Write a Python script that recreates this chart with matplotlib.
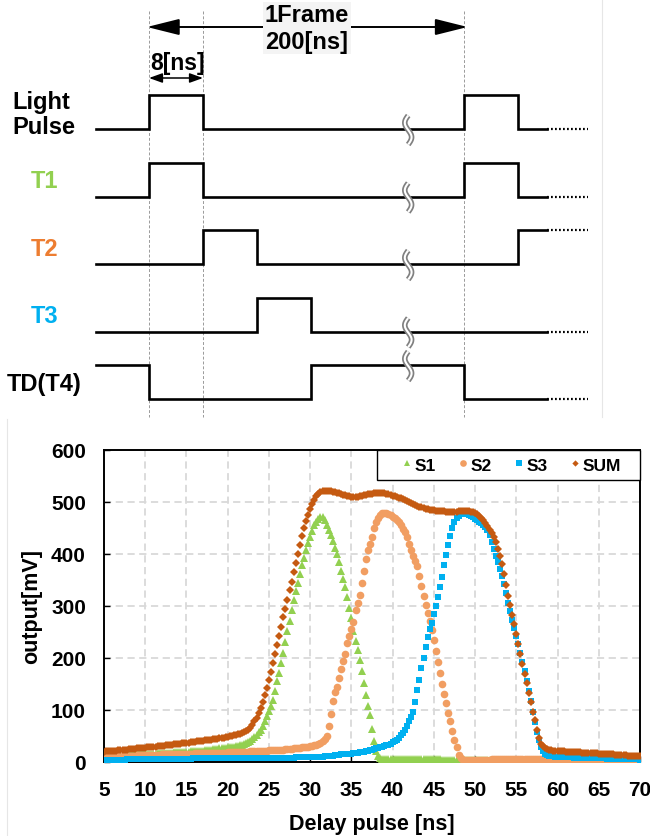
import matplotlib.pyplot as plt
import numpy as np
from matplotlib.lines import Line2D
from matplotlib.patches import Rectangle

plt.rcParams['font.family'] = ['Liberation Sans', 'DejaVu Sans']
plt.rcParams['font.weight'] = 'bold'
plt.rcParams['axes.labelweight'] = 'bold'

#####################################################
# DATA
#####################################################

# delay pulse [ns], one sample every 0.25 ns
delay = np.arange(5, 70.001, 0.25)

s1 = [
    12, 12, 12, 12.5, 12.5, 12.5, 13, 13, 13, 13, 13.5, 13.5, 14, 14, 14, 14.5,
    14.5, 14.5, 15, 15, 15, 15.5, 15.5, 16, 16, 16, 16.5, 16.5, 17, 17, 17.5, 17.5,
    18, 18, 18.5, 18.5, 19, 19, 19.5, 19.5, 20, 20, 20.5, 21, 21, 21.5, 21.5, 22,
    22, 22.5, 23, 23.5, 24, 24.5, 25, 25.5, 26, 26.5, 27, 27.5, 28, 28.5, 29, 29.5,
    30, 31, 32, 33, 34, 36, 38, 41, 44, 48, 52, 57, 62, 70, 78, 88,
    98, 108, 120, 137, 155, 172, 190, 210, 230, 251, 272, 292, 312, 328, 345, 362,
    378, 393, 408, 421, 433, 445, 455, 462, 468, 471, 471, 466, 455, 447, 437, 425,
    412, 400, 385, 368, 352, 336, 317, 297, 276, 252, 233, 215, 196, 175, 152, 128,
    108, 90, 64, 40, 22, 11, 7, 6, 5, 5, 5, 5, 5, 5, 5, 5,
    5, 5, 5, 5, 5, 5, 5, 5, 5, 5, 5, 5, 5, 5, 5, 5,
    5, 5, 5, 5, 4.5, 4.5, 4.5, 4.5, 4.5, 4.5, 4.5, 4.5, 4, 4, 4, 4,
    3.5, 3.5, 3.5, 3.5, 3.5, 3.5, 3.5, 3.5, 3.5, 3.5, 3.5, 3.5, 3.5, 3.5, 3.5, 3.5,
    3.5, 3.5, 3.5, 3.5, 3.5, 3.5, 3.5, 3.5, 3.5, 3.5, 3.5, 3.5, 3, 3, 3, 3,
    3, 3, 3, 3, 3, 3, 3, 3, 3, 3, 3, 3, 3, 3, 3, 3,
    3, 3, 3, 3, 3, 3, 3, 3, 3, 3, 3, 3, 3, 3, 3, 3,
    3, 3, 3, 3, 3, 3, 3, 3, 3, 3, 3, 3, 3, 3, 3, 3,
    3, 3, 3, 3, 3,
]

s2 = [
    11, 11, 11, 11, 11.5, 11.5, 11.5, 11.5, 12, 12, 12, 12, 12.5, 12.5, 12.5, 12.5,
    13, 13, 13, 13, 13.5, 13.5, 13.5, 13.5, 14, 14, 14, 14, 14.5, 14.5, 14.5, 14.5,
    15, 15, 15, 15, 15.5, 15.5, 15.5, 15.5, 16, 16, 16, 16, 16.5, 16.5, 16.5, 16.5,
    17, 17, 17, 17, 17.5, 17.5, 17.5, 17.5, 18, 18, 18, 18, 18.5, 18.5, 19, 19,
    19, 19.5, 19.5, 19.5, 20, 20, 20, 20.5, 20.5, 21, 21, 21, 21.5, 21.5, 22, 22,
    22.5, 22.5, 23, 23, 23.5, 23.5, 24, 24, 24.5, 25, 25, 25.5, 26, 26.5, 27, 27.5,
    28, 28.5, 29, 29.5, 30, 31, 32, 33, 35, 37, 40, 44, 50, 70, 92, 118,
    135, 145, 162, 178, 195, 208, 228, 242, 255, 270, 292, 305, 322, 345, 368, 390,
    408, 420, 433, 450, 462, 470, 475, 478, 479, 479, 477, 475, 472, 469, 466, 461,
    455, 449, 443, 432, 420, 408, 396, 386, 376, 357, 338, 320, 302, 287, 272, 254,
    235, 213, 192, 171, 150, 131, 113, 95, 78, 60, 42, 28, 14, 7, 4, 3,
    3, 3, 3, 3.5, 3.5, 4, 4, 4, 4.5, 4.5, 4.5, 4.5, 5, 5, 5, 5,
    5, 5, 5, 5.5, 5.5, 5.5, 5.5, 5.5, 5.5, 5.5, 5.5, 5.5, 5.5, 5.5, 5.5, 5.5,
    5.5, 5.5, 5, 5, 5, 5, 5, 5, 4.5, 4.5, 4.5, 4.5, 4, 4, 4, 4,
    4, 4, 3.5, 3.5, 3.5, 3.5, 3.5, 3.5, 3, 3, 3, 3, 3, 3, 3, 3,
    2.5, 2.5, 2.5, 2.5, 2.5, 2.5, 2.5, 2.5, 2, 2, 2, 2, 2, 2, 2, 2,
    1.5, 1.5, 1.5, 1.5, 1.5,
]

s3 = [
    4, 4, 4, 4, 4, 4.5, 4.5, 4.5, 4.5, 4.5, 4.5, 5, 5, 5, 5, 5,
    5, 5, 5, 5.5, 5.5, 5.5, 5.5, 5.5, 5.5, 5.5, 6, 6, 6, 6, 6, 6,
    6, 6, 6.5, 6.5, 6.5, 6.5, 6.5, 6.5, 6.5, 6.5, 6.5, 7, 7, 7, 7, 7,
    7, 7, 7, 7, 7, 7, 7, 7, 7, 7, 7, 7, 7, 7, 7, 7.5,
    7.5, 7.5, 7.5, 7.5, 7.5, 7.5, 7.5, 7.5, 7.5, 7.5, 8, 8, 8, 8, 8, 8,
    8, 8, 8, 8, 8, 8, 8.5, 8.5, 8.5, 8.5, 8.5, 8.5, 8.5, 9, 9, 9,
    9, 9.5, 9.5, 9.5, 9.5, 10, 10, 10, 10, 10.5, 10.5, 11, 11, 11.5, 12, 12.5,
    13, 13.5, 14, 14.5, 15, 15, 15.5, 15.5, 16, 16.5, 17, 18, 19, 19.5, 20, 21,
    22, 23, 24, 25, 26, 27, 28, 29, 30, 32, 33, 35, 38, 40, 42, 46,
    52, 56, 62, 69, 78, 86, 96, 115, 138, 158, 180, 200, 222, 240, 255, 268,
    285, 300, 318, 336, 356, 378, 398, 418, 435, 450, 462, 470, 474, 476, 477, 477,
    476, 475, 473, 471, 468, 465, 462, 459, 455, 451, 446, 436, 423, 410, 397, 385,
    372, 357, 342, 325, 305, 290, 274, 258, 242, 226, 209, 192, 175, 156, 137, 117,
    97, 77, 58, 42, 28, 21, 16, 14, 12, 11.5, 11, 10.5, 10, 10, 9.5, 9.5,
    9, 9, 9, 9, 8.5, 8.5, 8.5, 8.5, 8, 8, 8, 8, 7.5, 7.5, 7.5, 7.5,
    7, 7, 7, 7, 6.5, 6.5, 6.5, 6.5, 6, 6, 6, 6, 5.5, 5.5, 5.5, 5.5,
    5, 5, 5, 5, 4.5,
]

s_sum = [
    20, 20.5, 21, 21, 21.5, 22, 22, 22.5, 23, 23, 23.5, 24, 24.5, 24.5, 25, 25.5,
    26, 26, 26.5, 27, 27.5, 28, 28, 28.5, 29, 29.5, 30, 30.5, 31, 31.5, 32, 32.5,
    33, 33.5, 34, 34.5, 35, 35.5, 36, 36.5, 37, 37.5, 38, 38.5, 39, 39.5, 40, 40.5,
    41, 41.5, 42, 42.5, 43, 44, 44.5, 45, 46, 46.5, 47, 48, 48.5, 49.5, 50, 51,
    52, 53, 54, 55, 57, 59, 62, 66, 72, 78, 85, 94, 104, 115, 128, 142,
    157, 173, 190, 207, 225, 242, 260, 278, 295, 312, 330, 347, 365, 382, 400, 418,
    435, 450, 463, 475, 486, 496, 504, 511, 516, 519, 521, 522, 522, 522, 521, 520,
    519, 518, 517, 516, 514, 513, 512, 511, 510, 510, 510, 510, 511, 512, 513, 514,
    515, 515, 516, 517, 517, 518, 518, 518, 517, 516, 515, 514, 512, 511, 510, 508,
    507, 505, 503, 502, 500, 498, 497, 495, 493, 491, 490, 488, 487, 486, 485, 484,
    484, 483, 483, 482, 482, 482, 481, 481, 481, 481, 481, 481, 482, 482, 483, 483,
    482, 482, 481, 480, 478, 476, 474, 470, 466, 460, 454, 447, 440, 432, 423, 410,
    396, 380, 362, 341, 320, 302, 283, 265, 247, 227, 207, 188, 170, 152, 133, 115,
    97, 80, 62, 47, 34, 30, 26, 24.5, 23, 22.5, 22, 21.5, 21, 21, 20.5, 20.5,
    20, 20, 19.5, 19.5, 19, 19, 18.5, 18.5, 18, 18, 17.5, 17.5, 17, 17, 16.5, 16.5,
    16, 16, 15.5, 15.5, 15, 15, 14.5, 14.5, 14, 14, 13.5, 13.5, 13, 13, 12.5, 12.5,
    12, 12, 11.5, 11.5, 11,
]

series_names = ["S1", "S2", "S3", "SUM"]
series_colors = ["#92D050", "#F19E62", "#00B0F0", "#C55A11"]
series_markers = ["^", "o", "s", "D"]
series_sizes = [6.2, 5.5, 5.0, 3.8]
legend_sizes = [4.8, 4.8, 4.2, 3.2]

# timing diagram (units of ns, frame break compressed after the wavy mark)
sig_names = ["Light\nPulse", "T1", "T2", "T3", "TD(T4)"]
sig_colors = ["black", "#92D050", "#ED7D31", "#00B0F0", "black"]
sig_start_level = [0, 0, 0, 0, 1]
sig_edges = [
    [0, 8, 46.7, 54.7],
    [0, 8, 46.7, 54.7],
    [8, 16, 54.7],
    [16, 24],
    [0, 24, 46.7],
]

#####################################################
# FIGURE
#####################################################

fig = plt.figure(figsize=(6.5, 8.37), dpi=100)

# --- timing diagram, drawn in a full-figure axes with pixel units
dax = fig.add_axes([0, 0, 1, 1])
dax.set_xlim(0, 650)
dax.set_ylim(837, 0)
dax.axis("off")

X0, PX = 149, 6.75          # position of t=0 and px per unit
ROW0, ROWSTEP, HIGH = 130, 67.5, 34
T_START, T_END, T_DOTS, T_BREAK = -7.9, 59.0, 65.0, 38.4


def tx(t):
    return X0 + PX * t


# faint borders of the pasted pictures
dax.plot([602, 602], [0, 418], color="#e6e6e6", lw=0.8, zorder=0)
dax.plot([7, 7], [420, 837], color="#e6e6e6", lw=0.8, zorder=0)

# dashed guides
for t in [0, 8, 46.7]:
    dax.plot([tx(t), tx(t)], [12, 418], color="#9a9a9a", lw=0.7,
             linestyle=(0, (3, 2)), zorder=1)

for i, (name, col, lvl0, edges) in enumerate(
        zip(sig_names, sig_colors, sig_start_level, sig_edges)):
    base = ROW0 + ROWSTEP * i
    lvl = lvl0
    ts, ls = [T_START], [lvl]
    for e in edges:
        ts += [e, e]
        ls += [lvl, 1 - lvl]
        lvl = 1 - lvl
    ts.append(T_END)
    ls.append(lvl)
    xs = [tx(t) for t in ts]
    ys = [base - HIGH * v for v in ls]
    dax.plot(xs, ys, color="black", lw=1.9, solid_joinstyle="miter", zorder=3)
    dax.plot([tx(T_END), tx(T_DOTS)], [ys[-1], ys[-1]], color="black", lw=1.6,
             linestyle=(0, (0.8, 1.0)), zorder=3)

    # wavy break mark
    lv_break = lvl0
    for e in edges:
        if e < T_BREAK:
            lv_break = 1 - lv_break
    yc = base - HIGH * lv_break + 1
    tt = np.linspace(-1, 1, 40)
    bx = tx(T_BREAK) + 3.4 * np.sin(np.pi * tt)
    by = yc + 14.5 * tt
    dax.plot(bx, by, color="#808080", lw=4.0, zorder=4, solid_capstyle="butt")
    dax.plot(bx, by, color="white", lw=1.5, zorder=5, solid_capstyle="butt")

    if i == 0:
        dax.text(12, base - 15, name, ha="left", va="center", fontsize=17,
                 fontweight="bold", linespacing=1.15, color=col)
    else:
        dax.text(44.5, base - 16, name, ha="center", va="center", fontsize=17,
                 fontweight="bold", color=col)

# frame arrow
dax.annotate("", xy=(tx(-0.3), 28), xytext=(tx(47.2), 28),
             arrowprops=dict(arrowstyle="<|-|>,head_length=1.0,head_width=0.25",
                             mutation_scale=20, color="black", lw=1.4,
                             shrinkA=0, shrinkB=0), zorder=2)
dax.text(307, 29, "1Frame\n200[ns]", ha="center", va="center", fontsize=17,
         fontweight="bold", linespacing=1.22, zorder=3,
         bbox=dict(facecolor="#f4f4f4", edgecolor="none", pad=1.0))
# pulse width arrow
dax.annotate("", xy=(tx(0), 79), xytext=(tx(8), 79),
             arrowprops=dict(arrowstyle="<|-|>,head_length=0.5,head_width=0.18",
                             mutation_scale=16, color="black", lw=1.1,
                             shrinkA=0, shrinkB=0))
dax.text(tx(4.2), 63, "8[ns]", ha="center", va="center", fontsize=16.5,
         fontweight="bold")

# --- measured outputs
ax = fig.add_axes([104 / 650, 74 / 837, 536 / 650, 312 / 837])
for vals, name, col, mk, ms in zip([s1, s2, s3, s_sum], series_names,
                                   series_colors, series_markers, series_sizes):
    ax.plot(delay, vals, linestyle="none", marker=mk, ms=ms, color=col,
            markeredgewidth=0, label=name, zorder=3)

ax.set_xlim(5, 70)
ax.set_ylim(0, 600)
ax.set_xticks(np.arange(5, 71, 5))
ax.set_yticks(np.arange(0, 601, 100))
ax.set_axisbelow(True)
ax.grid(True, color="#d9d9d9", lw=1.3, linestyle=(0, (4, 2.5)))
ax.tick_params(axis="x", direction="in", length=4, width=1, labelsize=15, pad=13)
ax.tick_params(axis="y", direction="in", length=4, width=1, labelsize=15, pad=13)
for lab in ax.get_xticklabels() + ax.get_yticklabels():
    lab.set_fontweight("bold")
for sp in ax.spines.values():
    sp.set_linewidth(1.4)
    sp.set_color("black")

ax.set_xlabel("Delay pulse [ns]", fontsize=15.5, fontweight="bold", labelpad=10)
ax.set_ylabel("output[mV]", fontsize=15.5, fontweight="bold", labelpad=6)

# legend box in the top right corner
ax.add_patch(Rectangle((0.509, 0.904), 0.491, 0.096, transform=ax.transAxes,
                       facecolor="white", edgecolor="black", lw=1.0, zorder=6,
                       clip_on=False))
handles = [Line2D([], [], linestyle="none", marker=mk, ms=ms, color=col,
                  markeredgewidth=0)
           for mk, ms, col in zip(series_markers, legend_sizes, series_colors)]
leg = ax.legend(handles, series_names, loc="center left",
                bbox_to_anchor=(0.557, 0.952), ncol=4, frameon=False,
                borderpad=0, borderaxespad=0, handlelength=0.5,
                handletextpad=0.2, columnspacing=1.3,
                prop=dict(size=12.5, weight="bold"))
leg.set_zorder(7)

fig.savefig("out.png", dpi=100, facecolor="white")
